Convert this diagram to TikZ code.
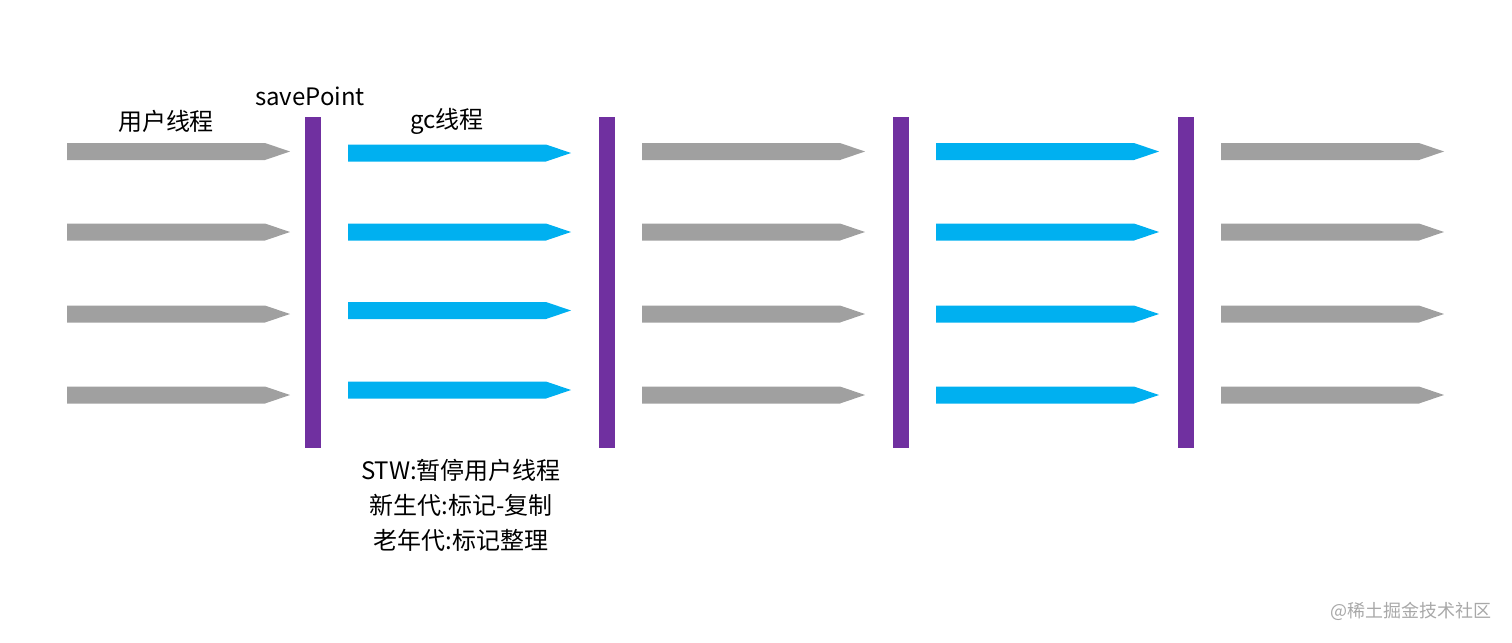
\documentclass[tikz,border=0pt]{standalone}
\usepackage{fontspec}
\setmainfont{Noto Sans CJK SC}
\definecolor{usergray}{HTML}{A0A0A0}
\definecolor{gcblue}{HTML}{00B0F0}
\definecolor{sppurple}{HTML}{7030A0}
\definecolor{markgray}{HTML}{A8A8A8}
\tikzset{
  usr/.style={fill=usergray},
  gcs/.style={fill=gcblue},
  barstyle/.style={fill=sppurple},
  lbl/.style={font=\fontsize{12}{14}\selectfont, inner sep=0pt},
  note/.style={font=\fontsize{12}{17.5}\selectfont, align=center, inner sep=0pt},
}
\newcommand\pencilarrow[3]{%
  \fill[#3] ({#1},{#2-8.5}) -- ({#1+198},{#2-8.5}) -- ({#1+223},{#2}) -- ({#1+198},{#2+8.5}) -- ({#1},{#2+8.5}) -- cycle;}
\begin{document}
\begin{tikzpicture}[x=0.5pt,y=-0.5pt]
\useasboundingbox (0,0) rectangle (1512,643);
% column 1: user threads
\foreach \y in {151.5,232,314,395} {\pencilarrow{67}{\y}{usr}}
% column 2: gc threads
\foreach \y in {153,232,310.5,390} {\pencilarrow{348}{\y}{gcs}}
% column 3: user threads
\foreach \y in {151.5,232,314,395} {\pencilarrow{642}{\y}{usr}}
% column 4: gc threads
\foreach \y in {151.5,232,314,395} {\pencilarrow{936}{\y}{gcs}}
% column 5: user threads
\foreach \y in {151.5,232,314,395} {\pencilarrow{1221}{\y}{usr}}
% safepoint bars
\fill[barstyle] (305,117) rectangle (321,448);
\fill[barstyle] (599,117) rectangle (615,448);
\fill[barstyle] (893,117) rectangle (909,448);
\fill[barstyle] (1178,117) rectangle (1194,448);
% labels
\node[lbl] (user) at (166,121) {用户线程};
\node[lbl] (sp) at (310,96) {savePoint};
\node[lbl] (gc) at (447,121) {gc线程};
\node[note] (notes) at (461,505) {STW:暂停用户线程\\新生代:标记-复制\\老年代:标记整理};
\node[inner sep=0pt, text=markgray, font=\fontsize{9}{11}\selectfont] (wm) at (1411,611) {@稀土掘金技术社区};
\end{tikzpicture}
\end{document}
